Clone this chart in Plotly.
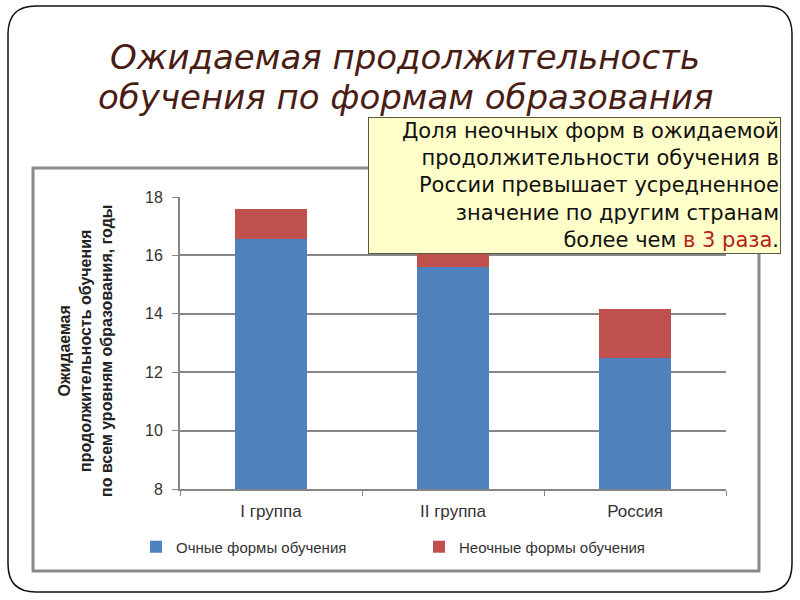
import plotly.graph_objects as go

categories = ["I группа", "II группа", "Россия"]
full_time = [16.55, 15.6, 12.5]
part_time = [1.05, 0.9, 1.65]
series_names = ["Очные формы обучения", "Неочные формы обучения"]
y_ticks = [8, 10, 12, 14, 16, 18]

title_lines = ["Ожидаемая продолжительность", "обучения по формам образования"]
y_title_lines = ["Ожидаемая", "продолжительность обучения", "по всем уровням образования, годы"]
callout_lines = [
    "Доля неочных форм в ожидаемой",
    "продолжительности обучения в",
    "России превышает усредненное",
    "значение по другим странам",
    "более чем <span style='color:#b5241b'>в 3 раза</span>.",
]

W, H = 800, 600
L, R, T, B = 180, 726, 197, 489  # plot area in pixels


def px(x):
    return (x - L) / (R - L)


def py(y):
    return (B - y) / (B - T)


fig = go.Figure()
fig.add_trace(go.Bar(x=categories, y=full_time, name=series_names[0],
                     marker=dict(color="#4f81bd", line=dict(width=0))))
fig.add_trace(go.Bar(x=categories, y=part_time, name=series_names[1],
                     marker=dict(color="#c0504d", line=dict(width=0))))

base_font = dict(family="Liberation Sans, Arial, sans-serif", color="#333333")

fig.update_layout(
    width=W, height=H,
    margin=dict(l=L, r=W - R, t=T, b=H - B),
    barmode="stack", bargap=0.6,
    paper_bgcolor="white", plot_bgcolor="white",
    showlegend=True,
    legend=dict(orientation="h", x=px(136), y=py(547), xanchor="left", yanchor="middle",
                font=dict(size=15, **base_font), entrywidth=238, entrywidthmode="pixels",
                traceorder="normal",
                itemclick=False, bgcolor="rgba(0,0,0,0)"),
    xaxis=dict(showline=True, linecolor="#868686", linewidth=2, ticks="outside",
               tickson="boundaries", ticklen=5, tickcolor="#868686", tickwidth=1,
               tickfont=dict(size=17, **base_font), ticklabelstandoff=6,
               showgrid=False, fixedrange=True),
    yaxis=dict(range=[8, 18], tickvals=y_ticks, showline=True, linecolor="#868686",
               linewidth=2, ticks="outside", ticklen=6, tickcolor="#868686",
               tickfont=dict(size=16, **base_font), ticklabelstandoff=6,
               showgrid=True, gridcolor="#868686", gridwidth=2,
               zeroline=False, fixedrange=True),
)

annotations = []
# title
for i, line in enumerate(title_lines):
    annotations.append(dict(
        text=line, xref="paper", yref="paper", x=px(405), y=py(57 + i * 40),
        xanchor="center", yanchor="middle", showarrow=False,
        font=dict(family="DejaVu Sans", size=34, color="#4a1d14", style="italic")))
# y axis title
annotations.append(dict(
    text="<br>".join(y_title_lines), xref="paper", yref="paper", x=px(85), y=py(351),
    xanchor="center", yanchor="middle", textangle=-90, showarrow=False,
    font=dict(family="Liberation Sans, Arial, sans-serif", size=16, color="#222222", weight="bold")))
# callout box
annotations.append(dict(
    text="<br>".join(callout_lines), xref="paper", yref="paper", x=px(781), y=py(117),
    xanchor="right", yanchor="top", showarrow=False, align="right", valign="middle",
    width=409, height=133, borderpad=1, borderwidth=1, bordercolor="#5a5a44",
    bgcolor="#ffffc9",
    font=dict(family="DejaVu Sans", size=21, color="#111111")))
fig.update_layout(annotations=annotations)

shapes = []
# grey chart frame
shapes.append(dict(type="rect", xref="paper", yref="paper",
                   x0=px(33), x1=px(759), y0=py(571), y1=py(168),
                   line=dict(color="#8a8a8a", width=3), layer="below"))
# rounded slide frame
x0, x1, y0, y1, r = 8, 792, 6, 592, 28
rx = r / (R - L)
ry = r / (B - T)
X0, X1, Y0, Y1 = px(x0), px(x1), py(y0), py(y1)
path = (f"M {X0 + rx} {Y0} L {X1 - rx} {Y0} Q {X1} {Y0} {X1} {Y0 - ry} "
        f"L {X1} {Y1 + ry} Q {X1} {Y1} {X1 - rx} {Y1} "
        f"L {X0 + rx} {Y1} Q {X0} {Y1} {X0} {Y1 + ry} "
        f"L {X0} {Y0 - ry} Q {X0} {Y0} {X0 + rx} {Y0} Z")
shapes.append(dict(type="path", xref="paper", yref="paper", path=path,
                   line=dict(color="#111111", width=1.5), layer="below"))
fig.update_layout(shapes=shapes)

fig.write_html("out.html", config={"displayModeBar": False},
               post_script="document.body.style.margin='0';document.body.style.overflow='hidden';")
